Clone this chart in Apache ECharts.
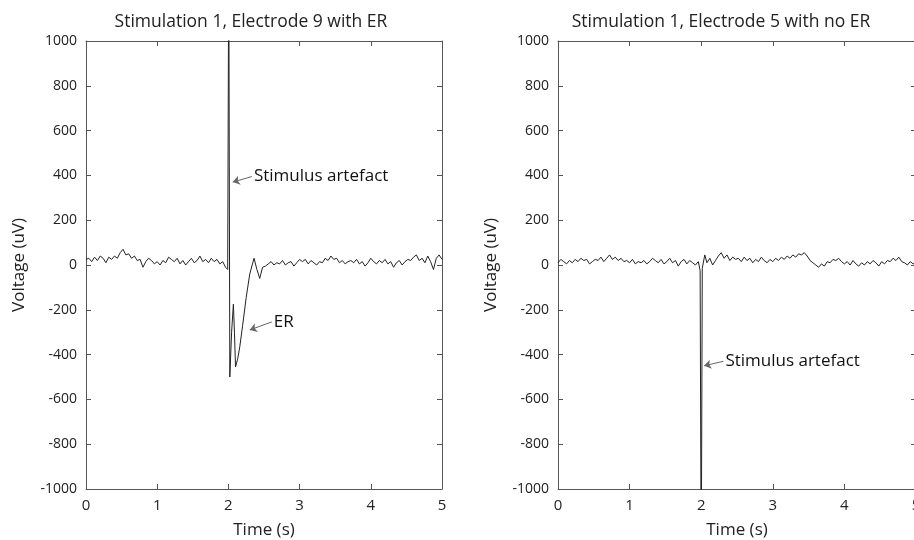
<!DOCTYPE html>
<html>
<head>
<meta charset="utf-8">
<script src="https://cdn.jsdelivr.net/npm/echarts@6/dist/echarts.min.js"></script>
<style>
  html, body { margin: 0; padding: 0; background: #fff; }
  #main { width: 914px; height: 540px; }
</style>
</head>
<body>
<div id="main"></div>
<script>
// 采样间隔 (s)
var STEP = 0.04;

// 左图: Electrode 9, 刺激前 0 ~ 1.96 s
var leftPre = [25, 30, 15, 35, 20, 40, 30, 10, 35, 25, 40, 30, 55, 70, 45, 50, 30, 40, 20, 25,
  -10, 15, 30, 20, 5, 15, 0, 20, 10, 35, 25, 15, 30, 5, 20, 0, 15, 30, 10, 20,
  40, 15, 25, 10, 30, 15, 25, 5, 15, -10];
// 左图: 刺激伪迹 + ER  [t, uV]
var leftSpike = [[1.99, -20], [2.005, 1400], [2.02, -500], [2.045, -300], [2.07, -175], [2.085, -300],
  [2.10, -455], [2.13, -420], [2.16, -365], [2.20, -270], [2.25, -145], [2.30, -40], [2.36, 30],
  [2.40, -20], [2.44, -60], [2.48, -10]];
// 左图: 2.52 ~ 5.00 s
var leftPost = [-5, 5, 15, 0, 10, 5, 20, 0, 10, 15, -5, 10, 25, 15, 25, 5, 20, 10, 0, 15,
  10, 30, 20, 40, 25, 30, 10, 20, 5, 15, 20, 10, 25, 5, 15, -5, 10, 30, 15, 5,
  20, 10, 25, 5, 15, -10, 10, 20, 0, 15, 25, 20, 35, 45, 20, 30, 10, 40, 15, -20,
  30, 45, 25];

// 右图: Electrode 5, 0 ~ 1.96 s
var rightPre = [10, 25, 15, 5, 20, 10, 25, 15, 30, 20, 25, 5, 15, 25, 20, 35, 15, 30, 45, 25,
  35, 20, 30, 15, 20, 10, 25, 5, 15, 10, 20, 5, 15, 30, 20, 10, 25, 5, 15, 30,
  10, 20, -5, 15, 25, 5, 20, 10, 0, 15];
// 右图: 刺激伪迹
var rightSpike = [[1.985, -25], [2.0, -1400], [2.015, -15], [2.05, 45], [2.08, 10], [2.12, 30], [2.16, 0]];
// 右图: 2.20 ~ 5.00 s
var rightPost = [20, 40, 55, 30, 45, 20, 35, 25, 30, 15, 35, 20, 30, 10, 25, 15, 35, 20, 10, 25,
  15, 30, 20, 35, 25, 40, 30, 45, 35, 50, 45, 55, 40, 20, 10, 0, -10, 5, -5, 15,
  10, 25, 20, 30, 15, 5, 15, 0, 20, 5, -5, 10, 0, 15, 5, 20, 10, -5, 15, 5,
  20, 15, 30, 20, 35, 15, 10, 0, 15, 5, 10];

var titles = ['Stimulation 1, Electrode 9 with ER', 'Stimulation 1, Electrode 5 with no ER'];

// 注释 (箭头尾, 箭头尖, 文本)
var notes = [
  { grid: 0, tail: [2.33, 395], tip: [2.06, 370], text: 'Stimulus artefact' },
  { grid: 0, tail: [2.61, -254], tip: [2.30, -290], text: 'ER' },
  { grid: 1, tail: [2.31, -430], tip: [2.04, -450], text: 'Stimulus artefact' }
];

var FONT = 'Open Sans';

function toPairs(start, arr) {
  var out = [];
  for (var i = 0; i < arr.length; i++) {
    out.push([+(start + i * STEP).toFixed(3), arr[i]]);
  }
  return out;
}

var leftData = toPairs(0, leftPre).concat(leftSpike, toPairs(2.52, leftPost));
var rightData = toPairs(0, rightPre).concat(rightSpike, toPairs(2.20, rightPost));

var grids = [
  { left: 86, top: 41, width: 356, height: 448, outerBoundsMode: 'none' },
  { left: 558, top: 41, width: 358, height: 448, outerBoundsMode: 'none' }
];

var axisLine = { show: true, onZero: false, lineStyle: { color: '#555', width: 1 } };
var axisTick = { show: true, inside: true, length: 5, lineStyle: { color: '#555' } };

var xAxes = [], yAxes = [];
for (var g = 0; g < 2; g++) {
  xAxes.push({
    gridIndex: g, type: 'value', min: 0, max: 5, interval: 1, position: 'bottom',
    name: 'Time (s)', nameLocation: 'middle', nameGap: 33,
    nameTextStyle: { fontFamily: FONT, fontSize: 17, color: '#222' },
    axisLine: axisLine, axisTick: axisTick, splitLine: { show: false },
    axisLabel: { fontFamily: FONT, fontSize: 15, color: '#222', margin: 9 }
  });
  xAxes.push({
    gridIndex: g, type: 'value', min: 0, max: 5, interval: 1, position: 'top',
    axisLine: axisLine, axisTick: axisTick, splitLine: { show: false }, axisLabel: { show: false }
  });
  yAxes.push({
    gridIndex: g, type: 'value', min: -1000, max: 1000, interval: 200, position: 'left',
    name: 'Voltage (uV)', nameLocation: 'middle', nameGap: 58,
    nameTextStyle: { fontFamily: FONT, fontSize: 17, color: '#222' },
    axisLine: axisLine, axisTick: axisTick, splitLine: { show: false },
    axisLabel: { fontFamily: FONT, fontSize: 14, color: '#222', margin: 9,
      formatter: function (v) { return String(v); } }
  });
  yAxes.push({
    gridIndex: g, type: 'value', min: -1000, max: 1000, interval: 200, position: 'right',
    axisLine: axisLine, axisTick: axisTick, splitLine: { show: false }, axisLabel: { show: false }
  });
}

function noteMarks(g) {
  var lines = [], points = [];
  notes.forEach(function (n) {
    if (n.grid !== g) return;
    lines.push([{ coord: n.tail }, { coord: n.tip }]);
    points.push({ coord: n.tail, value: n.text });
  });
  return {
    markLine: {
      silent: true, symbol: ['none', 'arrow'], symbolSize: 7,
      lineStyle: { color: '#666', width: 1, type: 'solid' },
      label: { show: false }, data: lines
    },
    markPoint: {
      silent: true, symbol: 'circle', symbolSize: 0,
      label: {
        show: true, position: 'right', distance: 2, formatter: '{c}',
        fontFamily: FONT, fontSize: 17, color: '#111'
      },
      data: points
    }
  };
}

var series = [leftData, rightData].map(function (d, g) {
  var s = {
    type: 'line', xAxisIndex: g * 2, yAxisIndex: g * 2, data: d,
    showSymbol: false, symbol: 'none', clip: true, animation: false,
    lineStyle: { color: '#222', width: 1 }
  };
  var m = noteMarks(g);
  s.markLine = m.markLine;
  s.markPoint = m.markPoint;
  return s;
});

var chart = echarts.init(document.getElementById('main'), null, { renderer: 'canvas' });
chart.setOption({
  backgroundColor: '#fff',
  animation: false,
  title: [
    { text: titles[0], left: 246, top: 8, textAlign: 'center',
      textStyle: { fontFamily: FONT, fontSize: 17.5, fontWeight: 'normal', color: '#222' } },
    { text: titles[1], left: 716, top: 8, textAlign: 'center',
      textStyle: { fontFamily: FONT, fontSize: 17.5, fontWeight: 'normal', color: '#222' } }
  ],
  grid: grids,
  xAxis: xAxes,
  yAxis: yAxes,
  series: series
});
</script>
</body>
</html>
